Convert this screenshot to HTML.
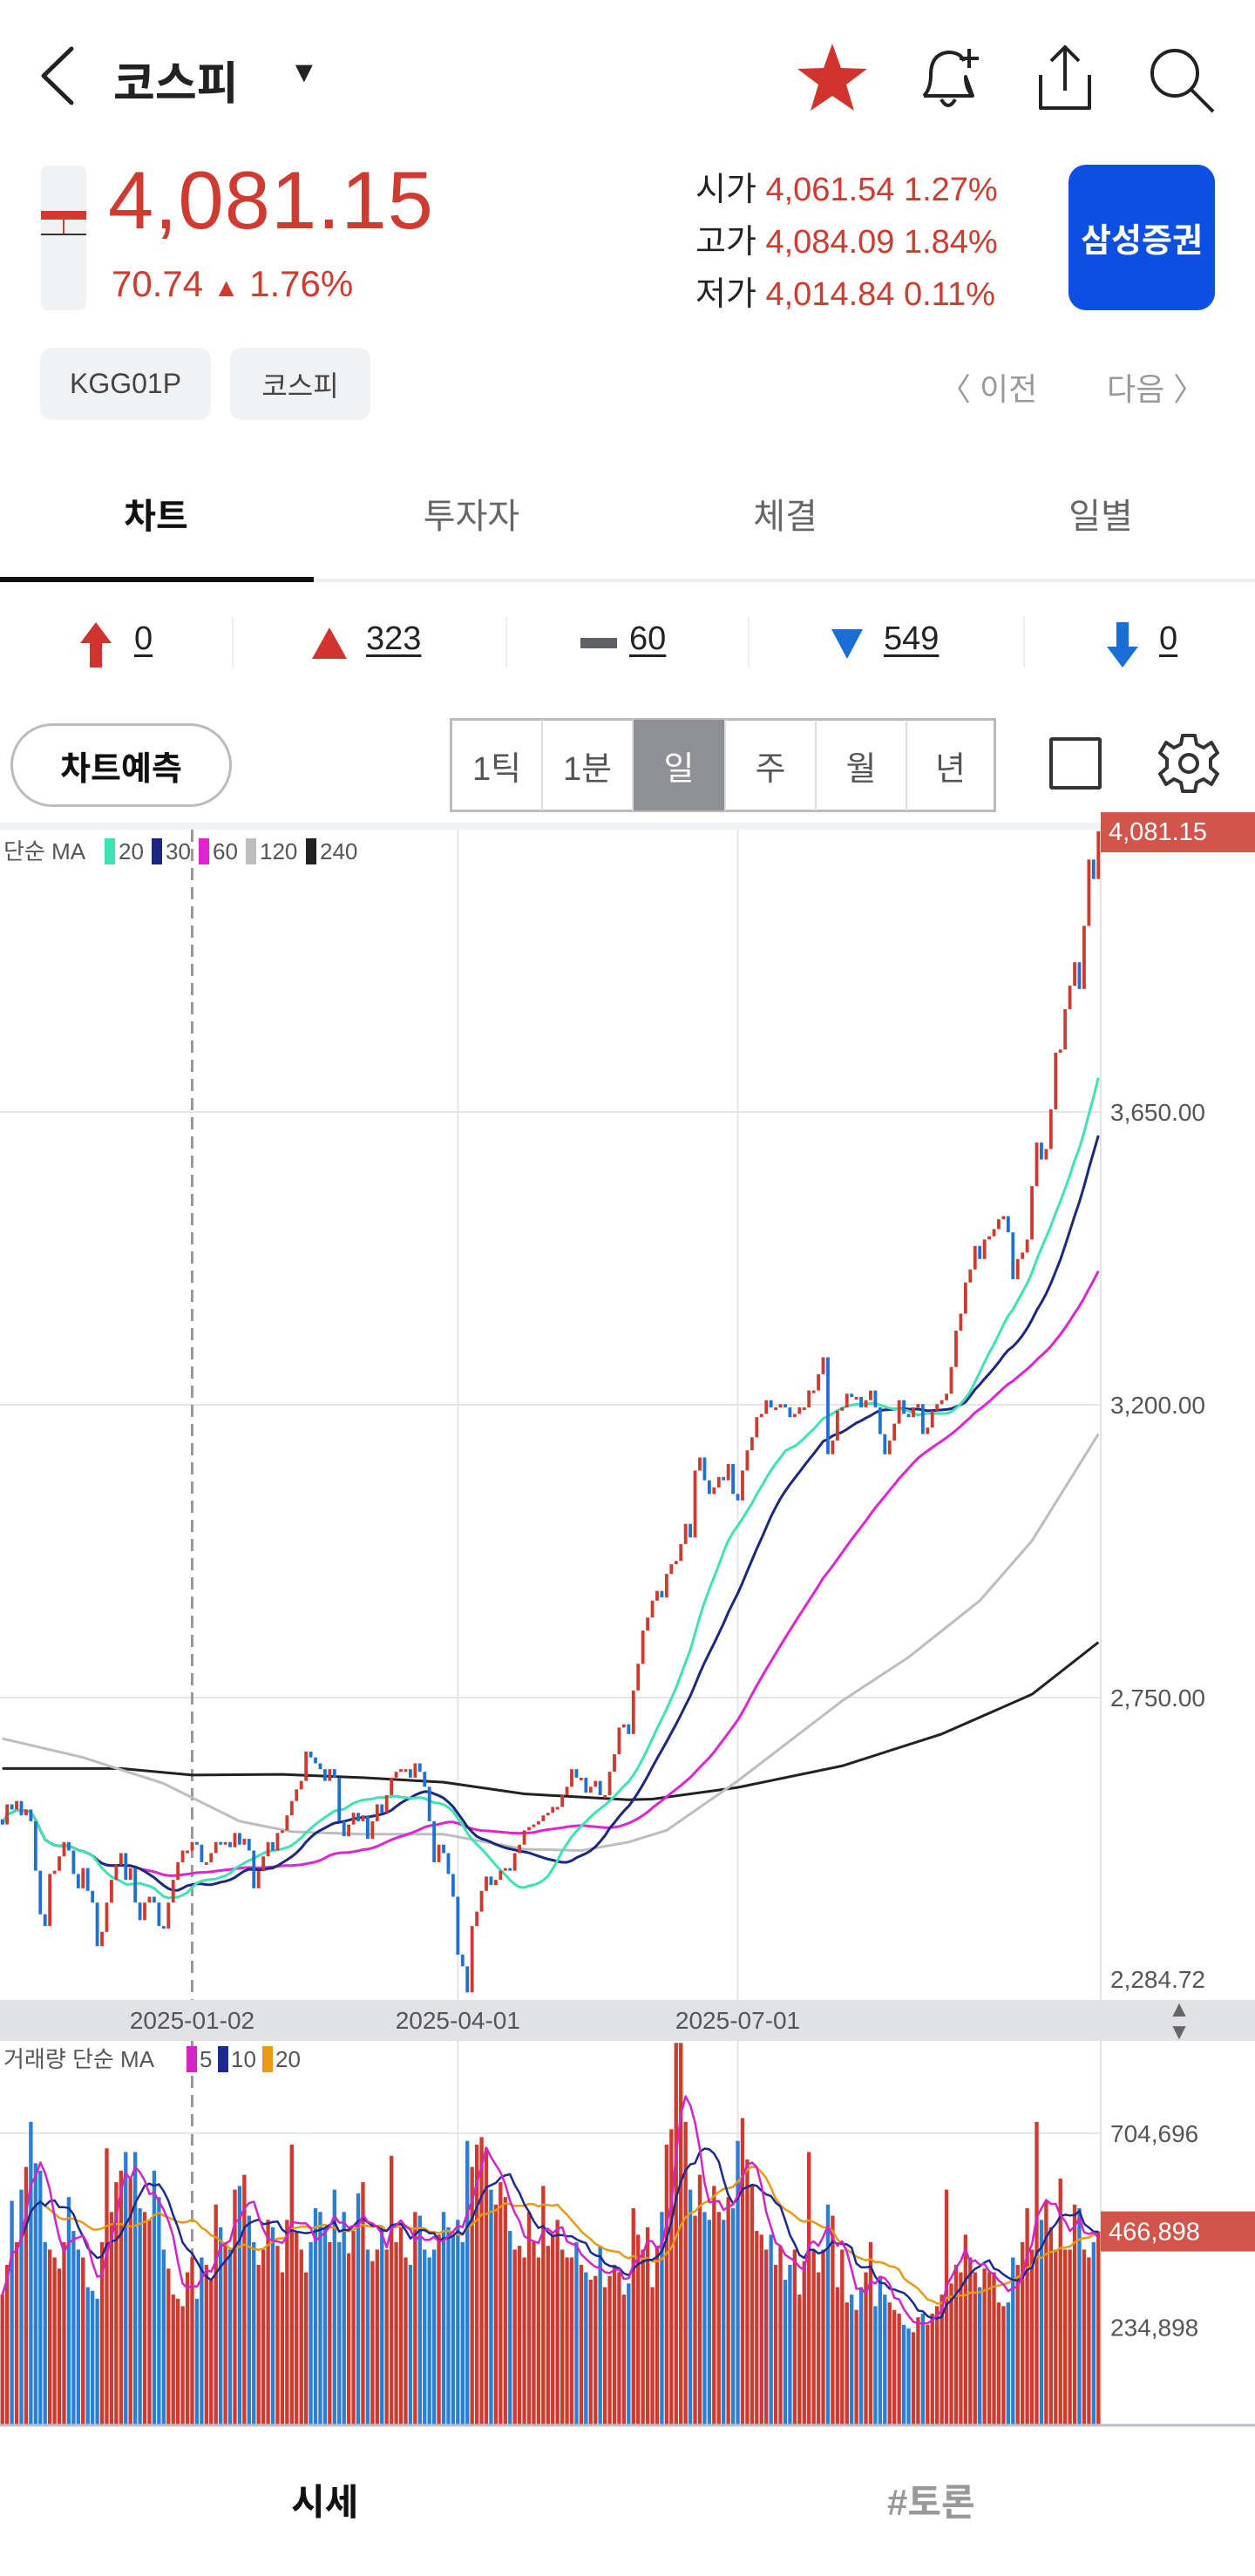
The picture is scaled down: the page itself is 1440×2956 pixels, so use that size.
<!DOCTYPE html>
<html lang="ko"><head><meta charset="utf-8">
<style>
*{margin:0;padding:0;box-sizing:border-box}
body{width:1440px;height:2956px;background:#fff;position:relative;overflow:hidden;font-family:"Liberation Sans","Noto Sans CJK KR",sans-serif;color:#111}
.abs{position:absolute}
.red{color:#cf3b30}
.chip{position:absolute;background:#f1f2f4;border-radius:14px;color:#444;font-size:32px;display:flex;align-items:center;justify-content:center}
.tab{position:absolute;top:560px;font-size:40px;color:#666;transform:translateX(-50%)}
.cnt{position:absolute;top:712px;font-size:38px;text-decoration:underline;text-decoration-thickness:3px;text-underline-offset:6px;color:#222}
.sep{position:absolute;top:708px;width:2px;height:58px;background:#eee}
.seg{position:absolute;top:826px;height:104px;display:flex;align-items:center;justify-content:center;font-size:38px;color:#555;border-right:2px solid #ddd}
.ohl{position:absolute;font-size:38px;white-space:nowrap}
</style></head><body>
<!-- header -->
<svg class="abs" style="left:40px;top:52px" width="50" height="70"><polyline points="42,4 10,35 42,66" fill="none" stroke="#222" stroke-width="5" stroke-linejoin="round" stroke-linecap="round"/></svg>
<div class="abs" style="left:130px;top:54px;font-size:52px;font-weight:bold;color:#222">코스피</div>
<div class="abs" style="left:332px;top:64px;font-size:34px;color:#222">▼</div>
<svg class="abs" style="left:912px;top:48px" width="86" height="82"><polygon points="43,2 53,30 83,31 59,49 68,79 43,62 18,79 27,49 3,31 33,30" fill="#d0342c"/></svg>
<svg class="abs" style="left:1050px;top:48px" width="80" height="84"><path d="M10 62 Q18 54 18 38 Q18 14 38 12 Q52 12 56 22 M58 40 Q58 54 66 62 Z M10 62 L66 62" fill="none" stroke="#222" stroke-width="4" stroke-linejoin="round"/><path d="M30 66 Q38 80 46 66" fill="none" stroke="#222" stroke-width="4"/><path d="M62 8 V30 M51 19 H73" stroke="#222" stroke-width="4"/></svg>
<svg class="abs" style="left:1184px;top:48px" width="76" height="84"><path d="M38 6 V56 M22 22 L38 6 L54 22 M10 38 V76 H66 V38" fill="none" stroke="#222" stroke-width="4" stroke-linejoin="round"/></svg>
<svg class="abs" style="left:1314px;top:48px" width="84" height="84"><circle cx="34" cy="36" r="26" fill="none" stroke="#222" stroke-width="4"/><line x1="53" y1="55" x2="78" y2="80" stroke="#222" stroke-width="4"/></svg>

<div class="abs" style="left:47px;top:190px;width:52px;height:166px;background:#f1f2f4;border-radius:8px">
 <div class="abs" style="left:0;top:52px;width:52px;height:10px;background:#cf3b30"></div>
 <div class="abs" style="left:25px;top:62px;width:2px;height:16px;background:#cf3b30"></div>
 <div class="abs" style="left:0;top:78px;width:52px;height:2px;background:#333"></div>
</div>
<div class="abs red" style="left:124px;top:176px;font-size:94px;letter-spacing:1px">4,081.15</div>
<div class="abs red" style="left:128px;top:302px;font-size:42px">70.74 <span style="font-size:30px">▲</span> 1.76%</div>

<div class="ohl" style="left:798px;top:186px"><span style="color:#222">시가</span> <span class="red">4,061.54 1.27%</span></div>
<div class="ohl" style="left:798px;top:246px"><span style="color:#222">고가</span> <span class="red">4,084.09 1.84%</span></div>
<div class="ohl" style="left:798px;top:306px"><span style="color:#222">저가</span> <span class="red">4,014.84 0.11%</span></div>
<div class="abs" style="left:1226px;top:189px;width:168px;height:167px;background:#0b4fe3;border-radius:20px;color:#fff;font-size:38px;font-weight:bold;display:flex;align-items:center;justify-content:center">삼성증권</div>

<div class="chip" style="left:46px;top:399px;width:196px;height:83px">KGG01P</div>
<div class="chip" style="left:264px;top:399px;width:161px;height:83px">코스피</div>
<div class="abs" style="left:1078px;top:418px;font-size:36px;color:#999">〈 이전</div>
<div class="abs" style="left:1270px;top:418px;font-size:36px;color:#999">다음 〉</div>

<div class="tab" style="left:179px;color:#111;font-weight:bold">차트</div>
<div class="tab" style="left:541px">투자자</div>
<div class="tab" style="left:901px">체결</div>
<div class="tab" style="left:1263px">일별</div>
<div class="abs" style="left:0;top:664px;width:1440px;height:4px;background:#eee"></div>
<div class="abs" style="left:0;top:662px;width:360px;height:6px;background:#111"></div>

<svg class="abs" style="left:90px;top:712px" width="40" height="56"><polygon points="20,2 38,26 27,26 27,54 13,54 13,26 2,26" fill="#d0342c"/></svg>
<div class="cnt" style="left:154px">0</div>
<div class="sep" style="left:266px"></div>
<svg class="abs" style="left:356px;top:718px" width="44" height="40"><polygon points="22,2 42,38 2,38" fill="#d0342c"/></svg>
<div class="cnt" style="left:420px">323</div>
<div class="sep" style="left:580px"></div>
<div class="abs" style="left:666px;top:732px;width:42px;height:12px;background:#5f6167"></div>
<div class="cnt" style="left:722px">60</div>
<div class="sep" style="left:858px"></div>
<svg class="abs" style="left:952px;top:720px" width="40" height="38"><polygon points="2,2 38,2 20,36" fill="#1a6fd6"/></svg>
<div class="cnt" style="left:1014px">549</div>
<div class="sep" style="left:1174px"></div>
<svg class="abs" style="left:1268px;top:712px" width="40" height="56"><polygon points="13,2 27,2 27,30 38,30 20,54 2,30 13,30" fill="#1a6fd6"/></svg>
<div class="cnt" style="left:1330px">0</div>

<div class="abs" style="left:12px;top:830px;width:254px;height:96px;border:3px solid #bbb;border-radius:48px;display:flex;align-items:center;justify-content:center;font-size:38px;font-weight:bold">차트예측</div>
<div class="abs" style="left:516px;top:824px;width:627px;height:108px;border:3px solid #bbb"></div>
<div class="seg" style="left:519px;width:104px">1틱</div>
<div class="seg" style="left:623px;width:104px">1분</div>
<div class="seg" style="left:727px;width:106px;background:#8e9096;color:#fff">일</div>
<div class="seg" style="left:833px;width:104px">주</div>
<div class="seg" style="left:937px;width:104px">월</div>
<div class="seg" style="left:1041px;width:99px;border-right:none">년</div>
<div class="abs" style="left:1204px;top:846px;width:60px;height:60px;border:4px solid #333;border-radius:3px"></div>
<svg class="abs" style="left:1326px;top:838px" width="76" height="76"><g transform="translate(38,38)" fill="none" stroke="#333" stroke-width="4"><path d="M-7,-32 L7,-32 L9,-22 L17,-18 L26,-24 L33,-12 L25,-5 L25,5 L33,12 L26,24 L17,18 L9,22 L7,32 L-7,32 L-9,22 L-17,18 L-26,24 L-33,12 L-25,5 L-25,-5 L-33,-12 L-26,-24 L-17,-18 L-9,-22 Z" stroke-linejoin="round"/><circle r="10"/></g></svg>

<svg id="chart" class="abs" style="left:0;top:0" width="1440" height="2956"></svg>

<div class="abs" style="left:334px;top:2838px;font-size:42px;font-weight:bold;color:#111">시세</div>
<div class="abs" style="left:1018px;top:2838px;font-size:42px;font-weight:bold;color:#999">#토론</div>

<script>
const closes=[2555,2586,2578,2591,2569,2578,2560,2484,
2417,2399,2479,2484,2506,2528,2515,2479,2457,2488,2453,2435,2368,2390,2435,2470,2493,2511,2470,2488,2435,2408,2435,2444,2435,2399,2395,2435,2470,2497,2515,2515,
2528,2524,2497,2497,2511,2528,2524,2528,2520,2542,2524,2533,2515,2457,2484,2506,2528,2515,2542,2546,
2569,2591,2609,2622,2667,2658,2649,2640,2622,2640,2627,2560,2537,2555,2573,2560,2569,2533,2560,2586,
2573,2600,2627,2636,2640,2640,2627,2649,2636,2613,2560,2497,2524,2511,2479,2444,2355,2337,2297,2399,
2421,2453,2475,2462,2470,2484,2488,2484,2511,2524,2546,2551,2555,2560,2569,2573,2582,2582,2600,2613,
2640,2627,2627,2604,2613,2622,2600,2600,2636,
2663,2704,2709,2694,2761,2802,2853,2873,2899,2914,2904,2940,2955,2960,2986,3017,2996,3099,3119,3084,3063,3073,3089,3084,3109,3063,3053,3099,3130,3150,3181,3186,3207,3196,3196,3201,3196,3181,3186,3196,3196,3222,3222,3247,3273,3124,3145,3191,3196,3217,3212,3212,3196,3207,3222,3196,3155,3124,3145,3171,3207,3186,3181,3196,3201,3155,3165,3191,3201,3207,3217,3258,3314,3340,
3388,3408,3444,3424,3454,3459,3470,3485,3490,3465,3393,3424,3434,3454,3536,3603,3577,3593,3654,3741,3746,3808,3844,3880,3839,3936,4038,4008,4081.15];
const volumes=[314,386,541,441,568,623,732,632,614,441,423,
404,377,441,550,468,423,404,332,323,304,
441,668,514,586,614,659,595,659,523,514,
495,614,550,423,377,314,304,286,368,404,
304,404,386,350,532,477,441,423,568,577,
604,505,441,386,423,495,477,432,368,495,
677,468,423,368,441,523,514,477,441,568,
441,514,414,468,559,586,423,395,423,477,
423,650,441,477,404,386,514,505,423,404,
423,459,514,477,459,495,441,686,623,677,
695,668,568,532,586,550,468,423,432,404,
514,441,404,577,432,459,495,423,404,404,
441,386,368,350,359,432,332,359,386,368,
314,341,523,459,423,477,332,432,514,677,
714,923,923,732,568,505,604,514,495,577,
514,495,550,523,686,741,641,577,468,459,
423,459,386,432,350,386,423,314,395,659,
423,368,423,532,505,332,423,295,314,277,
332,368,441,286,359,314,295,277,268,241,
232,223,259,268,241,268,286,314,568,341,
386,368,459,404,368,332,377,368,368,295,
286,295,404,386,441,523,423,732,495,541,
477,423,595,423,423,532,523,423,404,441,467];
const ma120Idx=[0,17,34,50,61,76,93,110,122,132,140,155,177,191,206,217,231];
const ma120Val=[2687,2658,2618,2560,2544,2540,2540,2517,2515,2528,2546,2622,2745,2812,2899,2991,3155];
const ma240Idx=[0,25,40,59,76,93,110,132,137,155,177,198,217,231];
const ma240Val=[2641,2641,2631,2632,2627,2620,2602,2593,2594,2612,2645,2694,2755,2835];
const priceTicks=[3650,3200,2750];
const volTicks=[704696,234898];
const dateLabels=['2025-01-02','2025-04-01','2025-07-01'];
const dateIdx=[40,96,155];
const lastVolume=466898;
const lowLabel=2284.72;

const svg=document.getElementById('chart');
const NS='http://www.w3.org/2000/svg';
const N=closes.length, PW=1263, step=PW/N;
const xC=i=>(i+0.5)*step;
const pY=p=>1276-(p-3650)*0.7467;
const vY=v=>2782-v*0.4742;
function mk(t,a,par){const e=document.createElementNS(NS,t);for(const k in a)e.setAttribute(k,a[k]);(par||svg).appendChild(e);return e;}
const fmt=(n,d)=>n.toLocaleString('en-US',{minimumFractionDigits:d,maximumFractionDigits:d});

let r=mk('rect',{x:0,y:944,width:1440,height:8,fill:'#f1f2f4'});


mk('line',{x1:PW,y1:952,x2:PW,y2:2782,stroke:'#e3e3e3','stroke-width':2});
priceTicks.forEach((t,i)=>{
 const g=mk('line',{x1:0,x2:PW,y1:pY(t),y2:pY(t),stroke:'#e6e6e6','stroke-width':2});
 
 
 const tx=mk('text',{x:1274,y:pY(t)+10,'font-size':28,fill:'#555'});
 tx.textContent=fmt(t,2);
 
 
});
dateIdx.forEach((d,i)=>{
 const x=xC(d);
 if(i===0){const l=mk('line',{x1:x,x2:x,y1:952,y2:2782,stroke:'#999','stroke-width':3,'stroke-dasharray':'14,8'});
  
  }
 else{const l=mk('line',{x1:x,x2:x,y1:952,y2:2782,stroke:'#e6e6e6','stroke-width':2});
  
  }
});
function sma(arr,n,i){let s=0,c=0;for(let k=Math.max(0,i-n+1);k<=i;k++){s+=arr[k];c++;}return s/c;}
function line(pts,color,w,name){const p=mk('polyline',{points:pts.map(q=>q[0].toFixed(1)+','+q[1].toFixed(1)).join(' '),fill:'none',stroke:color,'stroke-width':w,'stroke-linejoin':'round'});
 
 }
line(ma240Idx.map((d,i)=>[xC(d),pY(ma240Val[i])]),'#222',3,'ma240-line');
line(ma120Idx.map((d,i)=>[xC(d),pY(ma120Val[i])]),'#bdbdbd',3,'ma120-line');
line(closes.map((c,i)=>[xC(i),pY(sma(closes,60,i))]),'#e024d4',3,'ma60-line');
line(closes.map((c,i)=>[xC(i),pY(sma(closes,30,i))]),'#1b2780',3,'ma30-line');
line(closes.map((c,i)=>[xC(i),pY(sma(closes,20,i))]),'#3fe3b2',3,'ma20-line');
closes.forEach((c,i)=>{
 const o=i===0?c+8:closes[i-1];
 const up=c>=o;
 const y1=pY(Math.max(o,c)),y2=pY(Math.min(o,c));
 const b=mk('rect',{x:xC(i)-step*0.35,y:y1,width:step*0.7,height:Math.max(3,y2-y1),fill:up?'#d0392e':'#1f70d2'});
 
 
});
let pb=mk('rect',{x:PW,y:pY(closes[N-1])-22,width:177,height:46,fill:'#d3544a'});


let pt=mk('text',{x:1272,y:pY(closes[N-1])+10,'font-size':29,fill:'#fff'});
pt.textContent=fmt(closes[N-1],2);


let lt=mk('text',{x:1274,y:2281,'font-size':28,fill:'#555'});
lt.textContent=fmt(lowLabel,2);


const lg=mk('text',{x:4,y:986,'font-size':26,fill:'#555'});
lg.textContent='단순 MA';


const legItems=[['#3fe3b2','20'],['#1b2780','30'],['#e024d4','60'],['#bdbdbd','120'],['#222','240']];
let lx=120;
legItems.forEach(it=>{mk('rect',{x:lx,y:962,width:12,height:30,fill:it[0]});
 const t=mk('text',{x:lx+16,y:986,'font-size':26,fill:'#555'});t.textContent=it[1];
 
 
 lx+=16+it[1].length*15+8;});
mk('rect',{x:0,y:2295,width:1440,height:47,fill:'#e1e2e6'});
dateLabels.forEach((d,i)=>{const t=mk('text',{x:xC(dateIdx[i]),y:2328,'font-size':28,fill:'#555','text-anchor':'middle'});t.textContent=d;
 
 });
const sc=mk('text',{x:1353,y:2314,'font-size':26,fill:'#666','text-anchor':'middle'});sc.textContent='▲';


const sc2=mk('text',{x:1353,y:2340,'font-size':26,fill:'#666','text-anchor':'middle'});sc2.textContent='▼';
volTicks.forEach(v=>{const y=vY(v/1000);
 mk('line',{x1:0,x2:PW,y1:y,y2:y,stroke:'#e6e6e6','stroke-width':2});
 const t=mk('text',{x:1274,y:y+10,'font-size':28,fill:'#555'});t.textContent=fmt(v,0);
 
 });
volumes.forEach((v,i)=>{const up=i===0?true:closes[i]>=closes[i-1];
 const b=mk('rect',{x:xC(i)-step*0.4,y:vY(v),width:step*0.8,height:2782-vY(v),fill:up?'#d0392e':'#2a7fd4'});
 
 });
line(volumes.map((v,i)=>[xC(i),vY(sma(volumes,20,i))]),'#e89a12',2.5,'volume-ma20-line');
line(volumes.map((v,i)=>[xC(i),vY(sma(volumes,10,i))]),'#1b2a90',2.5,'volume-ma10-line');
line(volumes.map((v,i)=>[xC(i),vY(sma(volumes,5,i))]),'#d424c8',2.5,'volume-ma5-line');
mk('line',{x1:0,x2:1440,y1:2783,y2:2783,stroke:'#b7c2d0','stroke-width':3});
let vb=mk('rect',{x:PW,y:vY(lastVolume/1000)-23,width:177,height:46,fill:'#d3544a'});


let vt=mk('text',{x:1272,y:vY(lastVolume/1000)+10,'font-size':29,fill:'#fff'});vt.textContent=fmt(lastVolume,0);


const vl=mk('text',{x:4,y:2372,'font-size':26,fill:'#555'});vl.textContent='거래량 단순 MA';


const vItems=[['#d424c8','5'],['#1b2a90','10'],['#e89a12','20']];
let vx=214;
vItems.forEach(it=>{mk('rect',{x:vx,y:2348,width:12,height:30,fill:it[0]});
 const t=mk('text',{x:vx+15,y:2372,'font-size':26,fill:'#555'});t.textContent=it[1];
 
 
 vx+=15+it[1].length*15+6;});
</script>
</body></html>
